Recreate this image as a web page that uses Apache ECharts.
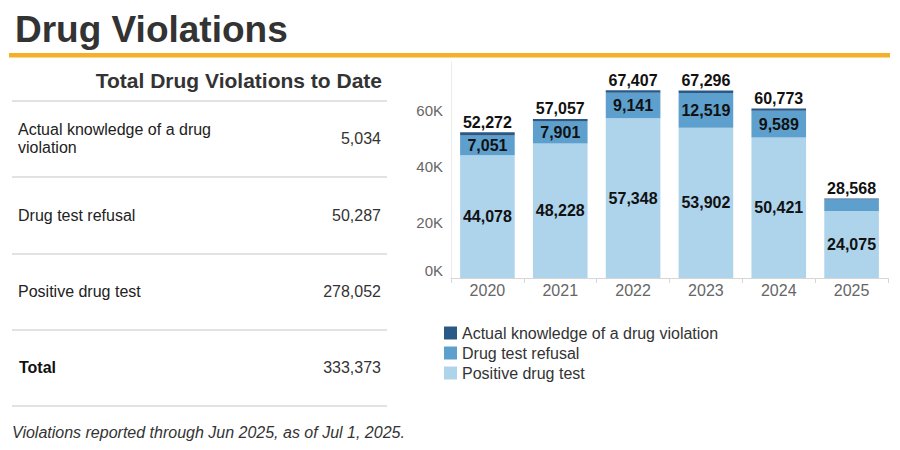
<!DOCTYPE html>
<html><head><meta charset="utf-8">
<script src="https://cdn.jsdelivr.net/npm/echarts@6/dist/echarts.min.js"></script>
<style>html,body{margin:0;padding:0;background:#fff}#c{width:900px;height:450px}</style>
</head><body><div id="c"></div>
<script>
const years = ['2020','2021','2022','2023','2024','2025'];
const positive = [44078, 48228, 57348, 53902, 50421, 24075];
const refusal = [7051, 7901, 9141, 12519, 9589, 4086];
const knowledge = [1143, 928, 918, 875, 763, 407];
const seriesNames = ['Actual knowledge of a drug violation', 'Drug test refusal', 'Positive drug test'];
const tableLabels = [['Actual knowledge of a drug', 'violation'], ['Drug test refusal'], ['Positive drug test']];
const yTicks = [0, 20000, 40000, 60000];
const titleText = 'Drug Violations';
const tableTitle = 'Total Drug Violations to Date';
const footnote = 'Violations reported through Jun 2025, as of Jul 1, 2025.';

const FONT = 'Arial, "Liberation Sans", sans-serif';
const fmt = v => v.toLocaleString('en-US');
const sum = a => a.reduce((s, v) => s + v, 0);
const totals = years.map((_, i) => positive[i] + refusal[i] + knowledge[i]);
const tableValues = [sum(knowledge), sum(refusal), sum(positive)];
const grand = sum(tableValues);

const chart = echarts.init(document.getElementById('c'), null, {renderer: 'svg'});

const graphics = [
  {type: 'text', style: {x: 15, y: 29, text: titleText, font: 'bold 37px ' + FONT, fill: '#333', textVerticalAlign: 'middle'}},
  {type: 'rect', shape: {x: 9, y: 53, width: 881, height: 4.5}, style: {fill: '#f6b027'}},
  {type: 'text', style: {x: 382, y: 80, text: tableTitle, font: 'bold 21px ' + FONT, fill: '#333', textAlign: 'right', textVerticalAlign: 'middle'}},
  {type: 'text', style: {x: 12, y: 432, text: footnote, font: 'italic 16px ' + FONT, fill: '#333', textVerticalAlign: 'middle'}}
];
const ruleYs = [101, 177, 254, 330, 406];
ruleYs.forEach(y => graphics.push({type: 'line', shape: {x1: 12, y1: y, x2: 387, y2: y}, style: {stroke: '#d9d9d9', lineWidth: 1.5}}));
const rowMid = [138, 215, 291, 367];
tableLabels.forEach((lines, i) => {
  const lh = 18;
  lines.forEach((t, j) => {
    const y = rowMid[i] - (lines.length - 1) * lh / 2 + j * lh;
    graphics.push({type: 'text', style: {x: 18, y: y, text: t, font: '16px ' + FONT, fill: '#222', textVerticalAlign: 'middle'}});
  });
  graphics.push({type: 'text', style: {x: 381, y: rowMid[i], text: fmt(tableValues[i]), font: '16px ' + FONT, fill: '#333', textAlign: 'right', textVerticalAlign: 'middle'}});
});
graphics.push({type: 'text', style: {x: 19, y: rowMid[3], text: 'Total', font: 'bold 16px ' + FONT, fill: '#111', textVerticalAlign: 'middle'}});
graphics.push({type: 'text', style: {x: 381, y: rowMid[3], text: fmt(grand), font: '16px ' + FONT, fill: '#333', textAlign: 'right', textVerticalAlign: 'middle'}});

const labelStyle = {fontFamily: FONT, fontWeight: 'bold', fontSize: 16, color: '#111'};

chart.setOption({
  animation: false,
  textStyle: {fontFamily: FONT},
  graphic: graphics,
  grid: {left: 451, right: 12, top: 62, bottom: 172, containLabel: false},
  legend: {
    orient: 'vertical', left: 439, top: 320, itemWidth: 13, itemHeight: 13, itemGap: 4,
    icon: 'rect', data: seriesNames,
    textStyle: {fontFamily: FONT, fontSize: 16, lineHeight: 16, color: '#333'}
  },
  xAxis: {
    type: 'category', data: years,
    axisLine: {lineStyle: {color: '#d6d6d6'}},
    axisTick: {show: true, length: 5, lineStyle: {color: '#d6d6d6'}},
    axisLabel: {fontSize: 16, color: '#666', margin: 4, fontFamily: FONT}
  },
  yAxis: {
    type: 'value', min: 0, max: 77500, interval: 20000,
    axisLine: {show: true, lineStyle: {color: '#ececec'}},
    axisTick: {show: false},
    splitLine: {show: false},
    axisLabel: {
      fontSize: 15, color: '#666', margin: 8, fontFamily: FONT, showMaxLabel: false,
      formatter: v => yTicks.includes(v) ? (v === 0 ? '{z|0K}' : (v / 1000) + 'K') : '',
      rich: {z: {fontSize: 15, color: '#666', fontFamily: FONT, padding: [0, 0, 16, 0]}}
    }
  },
  series: [
    {name: seriesNames[2], type: 'bar', stack: 's', barWidth: '75%', data: positive,
     itemStyle: {color: '#aed4ec'},
     label: Object.assign({show: true, position: 'inside', formatter: p => fmt(p.value)}, labelStyle)},
    {name: seriesNames[1], type: 'bar', stack: 's', data: refusal,
     itemStyle: {color: '#5ea0cd'},
     label: Object.assign({show: true, position: 'inside', formatter: p => p.value > 5000 ? fmt(p.value) : ''}, labelStyle)},
    {name: seriesNames[0], type: 'bar', stack: 's', data: knowledge,
     itemStyle: {color: '#2b5987'},
     label: Object.assign({show: true, position: 'top', distance: 2, formatter: p => fmt(totals[p.dataIndex])}, labelStyle)}
  ]
});
</script></body></html>
